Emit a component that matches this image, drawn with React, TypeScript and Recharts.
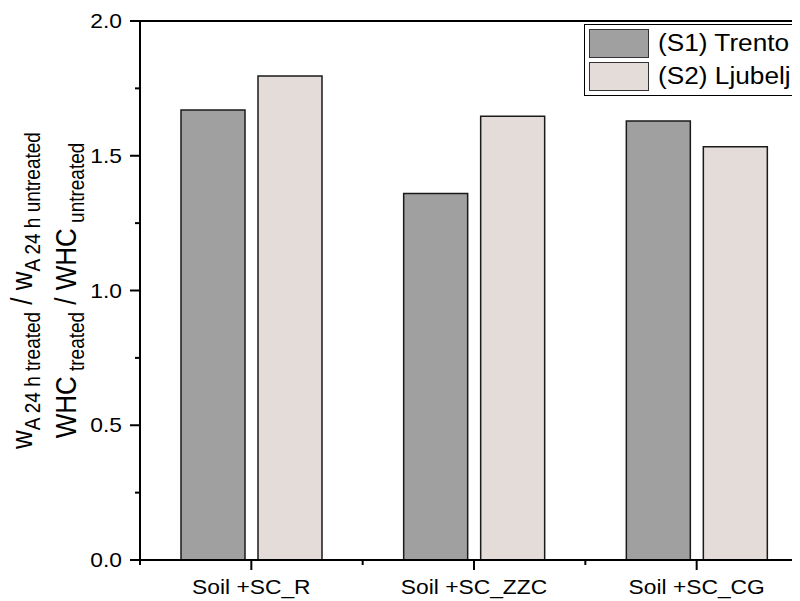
import React from 'react';
import { BarChart, Bar, XAxis, YAxis, Legend, ReferenceLine } from 'recharts';

const categories = ['Soil +SC_R', 'Soil +SC_ZZC', 'Soil +SC_CG'];
const trento = [1.67, 1.36, 1.629];
const ljubelj = [1.796, 1.647, 1.533];
const yTicks = [0, 0.25, 0.5, 0.75, 1.0, 1.25, 1.5, 1.75, 2.0];
const yMax = 2.0;
const seriesNames = ['(S1) Trento', '(S2) Ljubelj'];
const seriesColors = ['#A0A0A0', '#E4DCD9'];

const data = categories.map((name, i) => ({ name, trento: trento[i], ljubelj: ljubelj[i] }));

const FONT = '"Liberation Sans", Arial, Helvetica, sans-serif';
const SX = 1.14;
const MAJOR = 10;
const MINOR = 5;

const XTick = (props: any) => {
  const { x, y, payload } = props;
  const half = payload && payload.offset ? payload.offset : 0;
  const isLast = props.index === (props.visibleTicksCount || 3) - 1;
  return (
    <g>
      <line x1={x} x2={x} y1={y} y2={y + MAJOR} stroke="#000" strokeWidth={2} />
      <line x1={x - half} x2={x - half} y1={y} y2={y + MINOR} stroke="#000" strokeWidth={2} />
      {isLast ? (
        <line x1={x + half} x2={x + half} y1={y} y2={y + MINOR} stroke="#000" strokeWidth={2} />
      ) : null}
      <text
        transform={`translate(${x},${y + 34}) scale(${SX},1)`}
        textAnchor="middle"
        fontFamily={FONT}
        fontSize={20}
        fill="#000"
      >
        {payload.value}
      </text>
    </g>
  );
};

const YTick = (props: any) => {
  const { x, y, payload } = props;
  const v = Number(payload.value);
  const major = Math.abs(v * 2 - Math.round(v * 2)) < 1e-6;
  return (
    <g>
      <line x1={x - (major ? MAJOR : MINOR)} x2={x} y1={y} y2={y} stroke="#000" strokeWidth={2} />
      {major ? (
        <text
          transform={`translate(${x - 18},${y + 7}) scale(${SX},1)`}
          textAnchor="end"
          fontFamily={FONT}
          fontSize={20}
          fill="#000"
        >
          {v.toFixed(1)}
        </text>
      ) : null}
    </g>
  );
};

const YTitle = (props: any) => {
  const vb = props.viewBox || { x: 0, y: 13, width: 132, height: 539 };
  const ax = vb.x + (vb.width || 0);
  const cy = vb.y + vb.height / 2;
  return (
    <g fontFamily={FONT} fill="#000">
      <text
        transform={`translate(${ax - 108},${cy}) scale(${SX},1) rotate(-90)`}
        textAnchor="middle"
        fontSize={26}
      >
        w<tspan fontSize={19} dy={7}>A 24 h treated</tspan>
        <tspan dy={-7}> / w</tspan>
        <tspan fontSize={19} dy={7}>A 24 h untreated</tspan>
      </text>
      <text
        transform={`translate(${ax - 64},${cy}) scale(${SX},1) rotate(-90)`}
        textAnchor="middle"
        fontSize={26}
      >
        WHC<tspan fontSize={19} dy={7}> treated</tspan>
        <tspan dy={-7}> / WHC</tspan>
        <tspan fontSize={19} dy={7}> untreated</tspan>
      </text>
    </g>
  );
};

const LegendBox = (props: any) => {
  const items = (props.payload || []) as any[];
  return (
    <div
      style={{
        border: '1px solid #000',
        background: '#fff',
        padding: 4,
        width: 380,
        boxSizing: 'border-box',
        fontFamily: FONT,
        color: '#000',
      }}
    >
      {items.map((entry, i) => (
        <div
          key={String(entry.value)}
          style={{ display: 'flex', alignItems: 'center', height: 29, marginTop: i ? 4 : 0 }}
        >
          <div
            style={{
              width: 60,
              height: 29,
              boxSizing: 'border-box',
              border: '1.5px solid #333',
              background: entry.color,
              flex: 'none',
            }}
          />
          <span
            style={{
              marginLeft: 8.5,
              fontSize: 23,
              display: 'inline-block',
              transform: `scaleX(${SX})`,
              transformOrigin: 'left center',
              lineHeight: '29px',
              whiteSpace: 'nowrap',
            }}
          >
            {entry.value}
          </span>
        </div>
      ))}
    </div>
  );
};

const axisStroke = { stroke: '#000', strokeWidth: 2 };

export default function App() {
  return (
    <div style={{ width: 792, height: 593, overflow: 'hidden', position: 'relative', background: '#fff' }}>
      <BarChart
        width={840}
        height={593}
        data={data}
        margin={{ top: 13, right: 40, bottom: 0, left: 0 }}
        barSize={64}
        barGap={13}
      >
        <ReferenceLine y={yMax} stroke="#000" strokeWidth={2} ifOverflow="extendDomain" />
        <XAxis
          dataKey="name"
          height={41}
          interval={0}
          tickSize={0}
          tickMargin={0}
          axisLine={axisStroke}
          tickLine={false}
          tick={<XTick />}
        />
        <YAxis
          width={132}
          domain={[0, yMax]}
          ticks={yTicks}
          interval={0}
          tickSize={0}
          tickMargin={0}
          axisLine={axisStroke}
          tickLine={false}
          tick={<YTick />}
          label={(p: any) => <YTitle {...p} />}
        />
        <Legend
          layout="vertical"
          align="center"
          verticalAlign="middle"
          wrapperStyle={{ left: 576, top: 16, width: 400 }}
          content={<LegendBox />}
        />
        <Bar
          dataKey="trento"
          name={seriesNames[0]}
          fill={seriesColors[0]}
          stroke="#1a1a1a"
          strokeWidth={1.5}
          isAnimationActive={false}
        />
        <Bar
          dataKey="ljubelj"
          name={seriesNames[1]}
          fill={seriesColors[1]}
          stroke="#1a1a1a"
          strokeWidth={1.5}
          isAnimationActive={false}
        />
      </BarChart>
    </div>
  );
}
